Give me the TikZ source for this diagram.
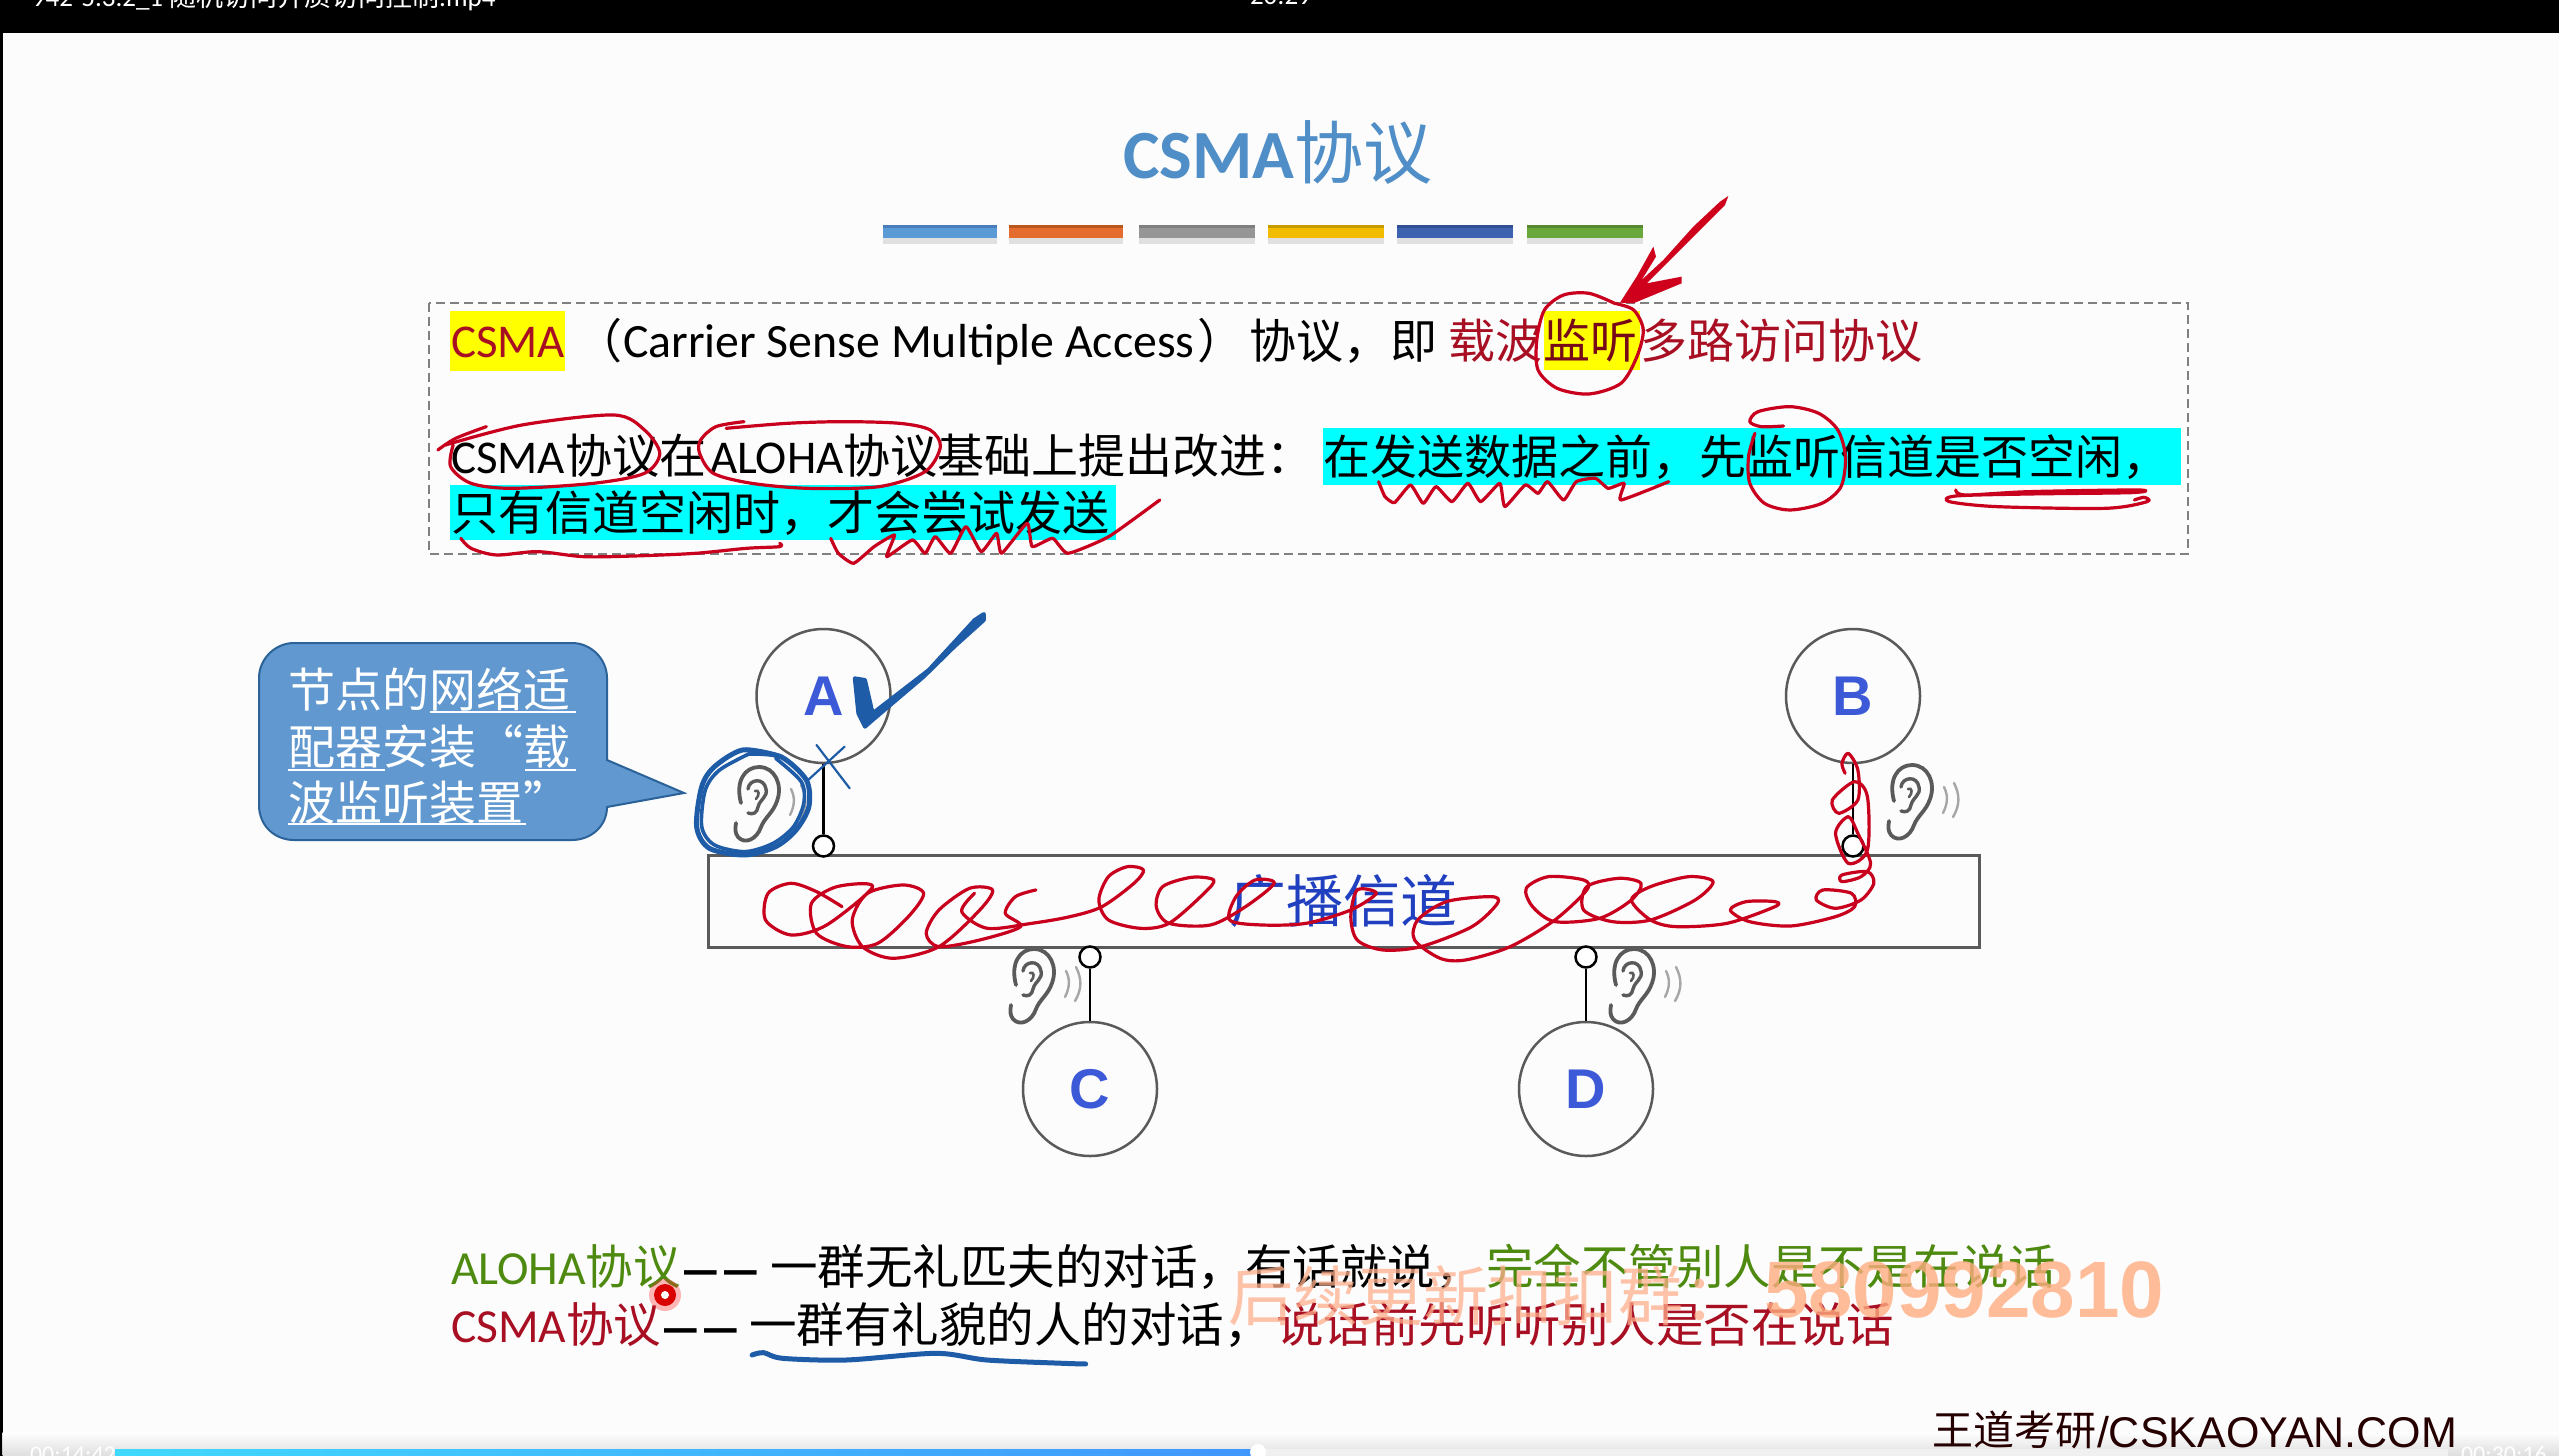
\documentclass[tikz,border=0pt]{standalone}
\usepackage{fontspec}
\setmainfont{Carlito}
\newfontfamily\cjk{Noto Sans CJK SC}
\newfontfamily\arial{Liberation Sans}
\usetikzlibrary{shapes.geometric}
\definecolor{inkred}{HTML}{C8001E}
\definecolor{inkblue}{HTML}{1F5CA8}
\definecolor{txtred}{HTML}{A80F22}
\definecolor{txtgreen}{HTML}{4F8A10}
\definecolor{ttlblue}{HTML}{4F8EC6}
\definecolor{cyanbg}{HTML}{00FFFF}
\definecolor{yellowbg}{HTML}{FFFF00}
\definecolor{nodeline}{HTML}{5A5A5A}
\definecolor{letterblue}{HTML}{3C5AD8}
\definecolor{chanblue}{HTML}{2040C0}
\definecolor{callfill}{HTML}{6098CF}
\definecolor{callline}{HTML}{2B6298}
\newcommand\zh[1]{{\cjk #1}}
\newcommand\szn{\fontsize{47}{47}\selectfont}
\newcommand\szb{\fontsize{47.5}{47.5}\selectfont}
\newcommand\twodash{{\cjk\bfseries\fontsize{40}{40}\selectfont —\kern4pt—}}
\tikzset{
  t/.style={inner sep=0pt,outer sep=0pt,anchor=base west,font=\szn},
  b/.style={inner sep=0pt,outer sep=0pt,anchor=base west,font=\szb},
  station/.style={circle,draw=nodeline,line width=2.5pt,minimum size=134pt,inner sep=0pt,text=letterblue,font=\arial\bfseries\fontsize{56}{56}\selectfont},
  tap/.style={circle,draw=black,line width=2.5pt,minimum size=21pt,inner sep=0pt,fill=white},
  stem/.style={draw=black,line width=2.5pt},
  redpen/.style={draw=inkred,line width=3.2pt,line cap=round,line join=round},
  bluepen/.style={draw=inkblue,line width=3.6pt,line cap=round,line join=round},
  zA/.style={shift={(420,290)},x=0.5102pt,y=-0.3333pt},
  zB/.style={shift={(1200,290)},x=0.6378pt,y=-0.3333pt},
  zC/.style={shift={(240,600)},x=0.5102pt,y=-0.3333pt},
  zD/.style={shift={(1000,600)},x=0.6378pt,y=-0.3333pt},
  zF/.style={shift={(400,1200)},x=0.6378pt,y=-0.3333pt},
  ear/.pic={
    \draw[nodeline,line width=3.8pt,line cap=round] (8,36) .. controls (2,14) and (12,0) .. (26,0) .. controls (42,0) and (50,18) .. (44,34) .. controls (40,46) and (32,50) .. (28,60) .. controls (24,72) and (12,78) .. (5,70) .. controls (2,66) and (2,62) .. (3,56);
    \draw[nodeline,line width=3.4pt,line cap=round] (15,22) .. controls (16,12) and (31,10) .. (33,22) .. controls (35,30) and (27,32) .. (25,40) .. controls (24,46) and (20,48) .. (15,46);
    \draw[nodeline,line width=2.6pt,line cap=round] (22,24) .. controls (26,22) and (27,28) .. (23,32);
    \draw[gray!70,line width=2.4pt,line cap=round] (58,22) .. controls (62,30) and (62,38) .. (57,48);
    \draw[gray!70,line width=2.4pt,line cap=round] (68,18) .. controls (74,30) and (74,40) .. (67,52);
  }
}
\begin{document}
\begin{tikzpicture}[x=1pt,y=-1pt]
\useasboundingbox (0,0) rectangle (2559,1456);
% video frame
\fill[white!99!black] (0,0) rectangle (2559,1456);
\fill[black] (0,0) rectangle (2559,33);
\fill[black] (0,0) rectangle (2.5,1456);
\node[t,text=white,font=\fontsize{27}{27}\selectfont] (fname) at (32,6) {942-5.3.2\_1 \zh{随机访问介质访问控制}.mp4};
\node[t,text=white,font=\fontsize{27}{27}\selectfont] (clock) at (1250,5) {20:29};
% title
\node[t,text=ttlblue,font=\bfseries\fontsize{69}{69}\selectfont] (title) at (1123,178) {CSMA\zh{\mdseries 协议}};
% bars
\foreach \xa/\xb/\ca/\cb in {883/997/5B9BD5/4A7EBB,1009/1123/E36C2E/B8561C,1139/1255/969696/7F7F7F,1268/1384/F2BC00/C79A00,1397/1513/3D62B0/2F4F92,1527/1643/6AA83C/55892F}{
  \fill[black!12] (\xa,237) rectangle (\xb,244);
  \definecolor{ba}{HTML}{\ca}\definecolor{bb}{HTML}{\cb}
  \fill[ba] (\xa,225) rectangle (\xb,238);
  \fill[bb] (\xa,225) rectangle (\xb,228);
}
% definition box
\draw[gray,line width=2pt,dash pattern=on 9pt off 5pt] (429,303) rectangle (2188,554);
\fill[yellowbg] (450,311) rectangle (565,371);
\fill[yellowbg] (1544,311) rectangle (1640,370);
\fill[cyanbg] (1323,428) rectangle (2181,485);
\fill[cyanbg] (450,485) rectangle (1116,540);
\node[t,text=txtred] (csma) at (451,357) {CSMA};
\node[t] (po) at (575,358) {\zh{（}};
\node[t,font=\fontsize{47.8}{47.8}\selectfont] (full) at (623,357) {Carrier Sense Multiple Access};
\node[t] (pc) at (1197,358) {\zh{）}};
\node[t] (ji) at (1249,358) {\zh{协议，即}};
\node[t,text=txtred] (za) at (1448,358) {\zh{载波}};
\node[t,text=txtred!70!black] (jt) at (1543,358) {\zh{监听}};
\node[t,text=txtred] (dl) at (1640,358) {\zh{多路访问协议}};
\node[t] (l2a) at (451,473) {CSMA\zh{协议在}};
\node[t] (l2b) at (710,473) {ALOHA\zh{协议基础上提出改进：}};
\node[t] (l2c) at (1323,474) {\zh{在发送数据之前，先监听信道是否空闲，}};
\node[t] (l3) at (451,530) {\zh{只有信道空闲时，才会尝试发送}};
% callout
\draw[fill=callfill,draw=callline,line width=2pt] (294,643) -- (572,643) .. controls (591,643) and (607,659) .. (607,678) -- (607,760) -- (684,793) -- (607,807) .. controls (607,826) and (591,840) .. (572,840) -- (294,840) .. controls (275,840) and (259,826) .. (259,805) -- (259,678) .. controls (259,659) and (275,643) .. (294,643) -- cycle;
\node[t,text=white] (c1) at (288,707) {\zh{节点的网络适}};
\node[t,text=white] (c2) at (288,764) {\zh{配器安装“载}};
\node[t,text=white] (c3) at (288,820) {\zh{波监听装置”}};
\draw[white,line width=2.5pt] (430,712) -- (576,712) (288,770) -- (385,770) (525,770) -- (576,770) (288,824) -- (526,824);
% network
\node[draw=nodeline,line width=3pt,minimum width=1271pt,minimum height=92pt,inner sep=0pt,text=chanblue,font=\cjk\fontsize{57}{57}\selectfont] (chan) at (1343.5,901) {广播信道};
\node[station] (A) at (823.5,696) {\raisebox{-2pt}{A}};
\node[station] (B) at (1853,696) {\raisebox{-2pt}{B}};
\node[station] (C) at (1090,1089) {\raisebox{-2pt}{C}};
\node[station] (D) at (1586,1089) {\raisebox{-2pt}{D}};
\node[tap] (ta) at (823.5,846) {};
\node[tap] (tb) at (1853,846) {};
\node[tap] (tc) at (1090,957) {};
\node[tap] (td) at (1586,957) {};
\draw[stem] (A) -- (ta);
\draw[stem] (B) -- (tb);
\draw[stem] (C) -- (tc);
\draw[stem] (D) -- (td);
\pic at (733,767) {ear};
\pic at (1886,765) {ear};
\pic at (1008,949) {ear};
\pic at (1608,949) {ear};
% bottom lines
\node[b,text=txtgreen] (bl1) at (451,1284) {ALOHA\zh{协议}};
\node[b] (bd1) at (682,1284) {\twodash};
\node[b] (bt1) at (770,1284) {\zh{一群无礼匹夫的对话，有话就说，}};
\node[b,text=txtgreen] (bg1) at (1486,1284) {\zh{完全不管别人是不是在说话}};
\node[b,text=txtred] (bl2) at (451,1342) {CSMA\zh{协议}};
\node[b] (bd2) at (662,1342) {\twodash};
\node[b] (bt2) at (749,1342) {\zh{一群有礼貌的人的对话，}};
\node[b,text=txtred] (bg2) at (1276,1342) {\zh{说话前先听听别人是否在说话}};
% watermark
\node[t,text=orange!60!red!45,opacity=.75,font=\cjk\fontsize{65}{65}\selectfont] (wm1) at (1228,1320) {后续更新扣扣群：};
\node[t,text=orange!70!red!50,opacity=.8,font=\arial\bfseries\fontsize{80}{80}\selectfont] (wm2) at (1764,1317) {580992810};
% player bar
\shade[top color=white,bottom color=black!14,opacity=.9] (2.5,1432) rectangle (2559,1456);
\fill[black!6] (1255,1449) rectangle (2448,1456);
\shade[left color=cyan!80!blue!75,right color=blue!55!cyan!75] (115,1449) rectangle (1255,1456);
\fill[white] (1258,1452) circle (8);
\node[t,text=white,font=\fontsize{24}{24}\selectfont] (t0) at (30,1462) {00:14:42};
\node[t,text=white,font=\fontsize{24}{24}\selectfont] (t1) at (2461,1462) {00:30:16};
% footer
\node[t,text=black!85!red,font=\cjk\fontsize{41}{41}\selectfont] (ft1) at (1932,1445) {王道考研};
\node[t,text=black!85!red,font=\arial\fontsize{43}{43}\selectfont] (ft2) at (2097,1447) {/CSKAOYAN.COM};
% red annotations
\begin{scope}[zA]
\draw[redpen] plot[smooth] coordinates {(35,480) (70,445) (130,410)};
\draw[redpen] plot[smooth] coordinates {(50,465) (200,405) (380,375) (440,420) (470,490) (440,550) (340,580) (180,595) (100,580) (60,530) (65,465)};
\draw[redpen] plot[smooth] coordinates {(635,395) (580,410) (550,450) (548,490) (575,550) (650,580) (760,595) (900,590) (990,545) (1020,470) (1000,420) (940,400) (830,395) (720,400) (600,415)};
\draw[redpen] plot[smooth] coordinates {(80,745) (100,775) (150,795) (230,785) (320,800) (420,798) (540,790) (640,775) (705,770) (705,760)};
\draw[redpen] plot[smooth,tension=.3] coordinates {(805,745) (820,790) (850,820) (890,770) (930,735) (915,800) (965,750) (990,790) (1010,740) (1040,790) (1070,710) (1100,785) (1130,730) (1140,790) (1190,700) (1200,770) (1240,745) (1270,790) (1350,740) (1450,630)};
\end{scope}
\begin{scope}[zB]
\draw[redpen] plot[smooth] coordinates {(650,40) (610,10) (570,15) (540,60) (528,150) (530,240) (560,295) (610,312) (660,280) (685,200) (695,120) (680,60) (650,40)};
\draw[redpen] plot[smooth,tension=.3] coordinates {(280,575) (290,620) (305,638) (330,585) (350,640) (370,590) (395,635) (420,580) (440,635) (470,580) (478,650) (510,585) (530,610) (545,575) (570,630) (590,575) (620,565) (640,595) (665,580) (660,630) (735,575)};
\draw[redpen] plot[smooth] coordinates {(915,408) (880,410) (862,395) (875,365) (925,350) (970,370) (1000,420) (1012,500) (1005,590) (975,640) (925,660) (885,640) (862,580) (860,500) (870,430)};
\draw[redpen] plot[smooth] coordinates {(1185,600) (1200,615) (1300,605) (1470,600) (1460,608) (1300,612) (1185,618) (1175,635) (1250,650) (1420,655) (1485,635) (1480,622) (1465,630)};
\end{scope}
\begin{scope}[shift={(1560,180)},x=0.3333pt,y=-0.3333pt]
\fill[inkred!90!red] (505,48) -- (495,75) -- (420,150) -- (330,240) -- (260,310) -- (365,290) -- (365,310) -- (220,370) -- (180,368) -- (230,290) -- (280,200) -- (288,230) -- (245,300) -- (310,240) -- (400,140) -- (480,65) -- cycle;
\end{scope}
\begin{scope}[zC]
\draw[redpen] plot[smooth] coordinates {(1180,920) (1130,875) (1080,850) (1035,880) (1030,960) (1080,1005) (1150,975) (1240,860) (1170,860) (1120,910) (1130,1000) (1190,1040) (1250,1030) (1310,950) (1340,880) (1300,855) (1230,880) (1200,960) (1220,1040) (1280,1075) (1370,1040) (1450,930) (1475,870) (1430,865) (1370,930) (1345,1000) (1370,1040) (1450,1020) (1530,980) (1500,940) (1520,890) (1560,870)};
\end{scope}
\begin{scope}[zD]
\draw[redpen] plot[smooth] coordinates {(-40,880) (-60,935) (-20,985) (50,970) (110,950) (160,920) (210,850) (225,810) (200,800) (170,830) (155,900) (170,960) (220,985) (265,970) (320,880) (335,840) (300,832) (255,860) (245,920) (265,970) (330,975) (385,920) (430,850) (400,840) (370,890) (360,960) (410,975) (480,970) (550,930) (590,880) (560,870) (550,950) (560,1020) (600,1050) (660,1040) (740,980) (780,910) (770,890) (700,905) (655,960) (650,1020) (690,1075) (730,1080) (800,1040) (870,960) (920,870) (915,840) (860,830) (825,865) (835,920) (870,965) (940,955) (990,900) (1005,850) (970,835) (920,860) (915,930) (960,965) (1020,960) (1090,900) (1118,845) (1080,830) (1020,860) (990,900) (1020,960) (1060,980) (1140,970) (1215,920) (1215,905) (1170,905) (1145,930) (1175,965) (1240,978) (1310,950) (1340,920) (1335,880) (1290,870) (1280,900) (1310,925) (1350,900) (1370,850) (1360,815) (1320,825) (1320,845) (1350,830) (1365,790) (1345,700) (1330,650) (1310,700) (1330,790) (1360,750) (1360,590) (1340,545) (1305,600) (1315,640) (1345,600) (1345,510) (1330,460) (1320,490) (1325,520)};
\end{scope}
% blue annotations
\begin{scope}[zC]
\filldraw[inkblue,line width=4pt,line join=round] (1205,235) -- (1225,240) -- (1240,340) -- (1350,210) -- (1440,60) -- (1458,42) -- (1458,60) -- (1400,140) -- (1340,230) -- (1240,360) -- (1225,380) -- (1212,340) -- cycle;
\draw[bluepen,line width=5pt] plot[smooth] coordinates {(1050,465) (985,450) (930,500) (905,560) (895,680) (920,745) (990,765) (1050,740) (1090,690) (1115,620) (1110,540) (1060,470) (1000,460)};
\draw[bluepen] plot[smooth] coordinates {(1000,460) (940,510) (912,570) (905,680) (930,735) (990,755) (1045,730) (1085,680) (1105,610) (1100,545) (1050,475)};
\draw[bluepen,line width=2.2pt] (1130,435) -- (1195,565);
\draw[bluepen,line width=2.2pt] (1185,440) -- (1110,545);
\end{scope}
\begin{scope}[zF]
\draw[bluepen,line width=5pt] plot[smooth] coordinates {(552,465) (570,458) (600,475) (700,480) (840,460) (920,480) (1040,490) (1075,492)};
\end{scope}
% laser pointer
\fill[red!80!white,opacity=.35] (665,1295) circle (16);
\fill[red!85!black] (665,1295) circle (11);
\fill[white] (665,1295) circle (4);
\end{tikzpicture}
\end{document}
